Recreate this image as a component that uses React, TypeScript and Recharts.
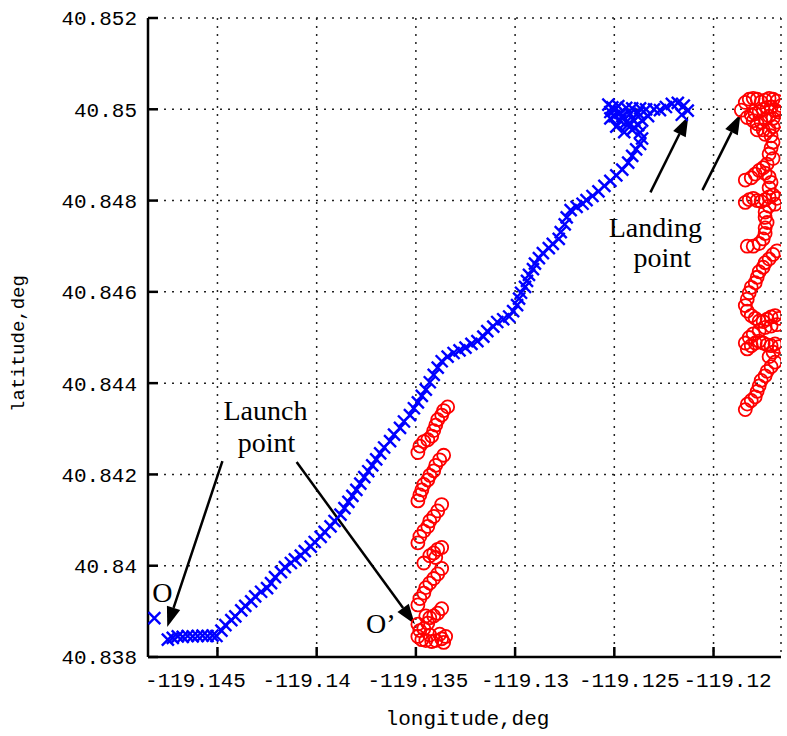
import React from 'react';
import { CartesianGrid, ReferenceDot, ReferenceLine, Scatter, ScatterChart, XAxis, YAxis } from 'recharts';

// longitude / latitude of the two tracks
const blueTrack: [number, number][] = [
  [-119.14818, 40.83885],
  [-119.1475, 40.83838], [-119.14725, 40.83842], [-119.147, 40.83845], [-119.14675, 40.83844],
  [-119.1465, 40.83846], [-119.14625, 40.83845], [-119.146, 40.83846], [-119.14575, 40.83847],
  [-119.1455, 40.83846], [-119.14525, 40.83847], [-119.14505, 40.83846],
  [-119.1448, 40.83858], [-119.1446, 40.8387], [-119.1443, 40.83881], [-119.1441, 40.83889],
  [-119.1438, 40.83902], [-119.1436, 40.83912], [-119.1433, 40.83922], [-119.1431, 40.83933],
  [-119.1428, 40.83943], [-119.1425, 40.83951], [-119.1423, 40.83962], [-119.1421, 40.83975],
  [-119.1418, 40.83986], [-119.1416, 40.83997], [-119.1413, 40.84006], [-119.1411, 40.84014],
  [-119.1408, 40.84022], [-119.1406, 40.84032], [-119.1403, 40.84042], [-119.1401, 40.84052],
  [-119.1398, 40.84063], [-119.1396, 40.84074], [-119.1393, 40.84086], [-119.1391, 40.84098],
  [-119.1388, 40.84112], [-119.1386, 40.84126], [-119.1384, 40.8414], [-119.1382, 40.84153],
  [-119.138, 40.84166], [-119.1378, 40.8418], [-119.1376, 40.84194], [-119.1374, 40.84207],
  [-119.1372, 40.8422], [-119.137, 40.84233], [-119.1368, 40.84246], [-119.1366, 40.84259],
  [-119.1363, 40.84273], [-119.1361, 40.84287], [-119.1358, 40.84302], [-119.1356, 40.84316],
  [-119.1353, 40.8433], [-119.1351, 40.84345], [-119.1349, 40.84358], [-119.1347, 40.84372],
  [-119.1345, 40.84386], [-119.1343, 40.84402], [-119.1341, 40.84418], [-119.1339, 40.84434],
  [-119.1337, 40.84448], [-119.1334, 40.84458], [-119.1331, 40.84466], [-119.1328, 40.84472],
  [-119.1325, 40.84478], [-119.1322, 40.84486], [-119.1319, 40.84492], [-119.1316, 40.84502],
  [-119.1314, 40.84514], [-119.1311, 40.84524], [-119.1309, 40.84534], [-119.1306, 40.8454],
  [-119.1303, 40.84546], [-119.1301, 40.84558], [-119.1299, 40.84571], [-119.1298, 40.84585],
  [-119.1297, 40.84598], [-119.1295, 40.84611], [-119.1294, 40.84624], [-119.1293, 40.84637],
  [-119.1291, 40.8465], [-119.129, 40.84662], [-119.1288, 40.84674], [-119.1286, 40.84685],
  [-119.1283, 40.84696], [-119.1281, 40.84705], [-119.1278, 40.84716], [-119.1277, 40.84731],
  [-119.1275, 40.84748], [-119.1274, 40.84763], [-119.1272, 40.84779], [-119.1269, 40.84786],
  [-119.1266, 40.84793], [-119.1264, 40.84801], [-119.1261, 40.8481], [-119.1258, 40.8482],
  [-119.1255, 40.84832], [-119.1252, 40.84843], [-119.1249, 40.84855], [-119.1246, 40.84868],
  [-119.1243, 40.84883], [-119.1241, 40.84898], [-119.1239, 40.84912], [-119.1237, 40.84924],
  [-119.1236, 40.84936], [-119.1237, 40.84949], [-119.124, 40.8496], [-119.1243, 40.84967],
  [-119.1247, 40.84975], [-119.125, 40.84985], [-119.1252, 40.84994], [-119.1251, 40.85004],
  [-119.1248, 40.85007], [-119.1244, 40.85003], [-119.1241, 40.85002], [-119.1237, 40.85002],
  [-119.1234, 40.85], [-119.123, 40.85], [-119.1227, 40.84998], [-119.1224, 40.85005],
  [-119.1221, 40.85012], [-119.1218, 40.85014], [-119.1215, 40.85008], [-119.1213, 40.84997],
  [-119.1216, 40.84988],
  [-119.1249, 40.84962], [-119.1245, 40.8495], [-119.124, 40.84975], [-119.1233, 40.84985],
  [-119.1247, 40.84992], [-119.1253, 40.8501], [-119.125, 40.84998], [-119.1246, 40.84985],
  [-119.1242, 40.8499], [-119.1238, 40.84992], [-119.1244, 40.84972], [-119.1236, 40.84975],
  [-119.1252, 40.8498], [-119.1241, 40.84955], [-119.1238, 40.84965],
];

const redTrack: [number, number][] = [
  // column near -119.134
  [-119.1349, 40.84248], [-119.1348, 40.84262], [-119.1346, 40.84272], [-119.1344, 40.84276],
  [-119.1342, 40.84284], [-119.1341, 40.84296], [-119.134, 40.84308], [-119.1339, 40.8432],
  [-119.1337, 40.8433], [-119.1336, 40.8434], [-119.1334, 40.84348],
  [-119.1349, 40.84142], [-119.1348, 40.84155], [-119.1347, 40.84166], [-119.1346, 40.84178],
  [-119.1344, 40.84188], [-119.1343, 40.84198], [-119.1341, 40.84208], [-119.134, 40.8422],
  [-119.1338, 40.84232], [-119.1336, 40.84242],
  [-119.1349, 40.8405], [-119.1348, 40.84064], [-119.1346, 40.84076], [-119.1344, 40.84086],
  [-119.1343, 40.84098], [-119.1341, 40.84108], [-119.1339, 40.8412], [-119.1337, 40.84134],
  [-119.1346, 40.84006], [-119.1343, 40.84022], [-119.1341, 40.84028], [-119.1339, 40.84036],
  [-119.1337, 40.8404], [-119.134, 40.84018],
  [-119.1349, 40.83914], [-119.1348, 40.83928], [-119.1346, 40.8394], [-119.1345, 40.83952],
  [-119.1343, 40.83962], [-119.1341, 40.83972], [-119.1339, 40.83982], [-119.1337, 40.83994],
  [-119.1349, 40.83872], [-119.1348, 40.83858], [-119.1346, 40.83862], [-119.1344, 40.83874],
  [-119.1343, 40.83886], [-119.1341, 40.8389], [-119.1339, 40.83896], [-119.1337, 40.83906],
  [-119.1345, 40.8389], [-119.1349, 40.83845], [-119.1347, 40.83838], [-119.1345, 40.83836],
  [-119.1342, 40.83834], [-119.134, 40.83836], [-119.1337, 40.8384], [-119.1335, 40.83845],
  [-119.1336, 40.83832], [-119.1343, 40.83848], [-119.1338, 40.8385],
  // column near -119.1175
  [-119.1186, 40.84998], [-119.1184, 40.85015], [-119.1182, 40.85022], [-119.118, 40.85024],
  [-119.1178, 40.85022], [-119.1176, 40.85016], [-119.1174, 40.8502], [-119.1172, 40.85024],
  [-119.117, 40.85022], [-119.1168, 40.85018], [-119.1166, 40.85008], [-119.1167, 40.84994],
  [-119.1169, 40.84998], [-119.1171, 40.85005], [-119.1173, 40.85004], [-119.1175, 40.85],
  [-119.1177, 40.84995], [-119.1179, 40.8499], [-119.1181, 40.84988], [-119.1183, 40.84982],
  [-119.118, 40.84975], [-119.1178, 40.84968], [-119.1176, 40.84972], [-119.1174, 40.84978],
  [-119.1172, 40.84985], [-119.117, 40.8498], [-119.1168, 40.84972], [-119.117, 40.84962],
  [-119.1172, 40.84955], [-119.1175, 40.84955], [-119.1178, 40.84955], [-119.1174, 40.84945],
  [-119.1171, 40.84942],
  [-119.117, 40.84928], [-119.1171, 40.84915], [-119.1172, 40.84902], [-119.117, 40.84892],
  [-119.1173, 40.8488], [-119.1175, 40.84872], [-119.1177, 40.84866], [-119.1179, 40.84858],
  [-119.1181, 40.8485], [-119.1184, 40.84845], [-119.1174, 40.8486], [-119.1172, 40.84852],
  [-119.1171, 40.8484], [-119.1172, 40.84828],
  [-119.1184, 40.84796], [-119.1182, 40.84802], [-119.118, 40.84805], [-119.1178, 40.848],
  [-119.1176, 40.84798], [-119.1174, 40.84802], [-119.1172, 40.84808], [-119.117, 40.84812],
  [-119.1168, 40.84805], [-119.1169, 40.84792], [-119.1172, 40.84788],
  [-119.1174, 40.84775], [-119.1174, 40.84763], [-119.1173, 40.84752], [-119.1174, 40.8474],
  [-119.1174, 40.84728], [-119.1175, 40.84716], [-119.1177, 40.84706], [-119.118, 40.847],
  [-119.1183, 40.847],
  [-119.1184, 40.8457], [-119.1183, 40.84584], [-119.1182, 40.84598], [-119.1181, 40.8461],
  [-119.1179, 40.8462], [-119.1178, 40.84632], [-119.1177, 40.84644], [-119.1175, 40.84654],
  [-119.1174, 40.84664], [-119.1172, 40.84672], [-119.117, 40.84682], [-119.1168, 40.8469],
  [-119.1183, 40.84558], [-119.1181, 40.84548], [-119.1179, 40.84542], [-119.1177, 40.84536],
  [-119.1175, 40.84535], [-119.1173, 40.8454], [-119.1171, 40.84545], [-119.1169, 40.84548],
  [-119.1167, 40.84542], [-119.1168, 40.84528], [-119.1171, 40.84525], [-119.1174, 40.84522],
  [-119.1177, 40.84515], [-119.118, 40.84508], [-119.1182, 40.845],
  [-119.1184, 40.84488], [-119.1183, 40.84475], [-119.1181, 40.84482], [-119.1179, 40.84488],
  [-119.1177, 40.84492], [-119.1175, 40.84488], [-119.1173, 40.84484], [-119.1171, 40.84482],
  [-119.1169, 40.84486], [-119.1167, 40.8448], [-119.117, 40.84468], [-119.1172, 40.84458],
  [-119.1184, 40.84342], [-119.1183, 40.84354], [-119.1181, 40.84362], [-119.1179, 40.8437],
  [-119.1178, 40.84382], [-119.1177, 40.84394], [-119.1176, 40.84406], [-119.1174, 40.84416],
  [-119.1173, 40.84426], [-119.1171, 40.84436], [-119.1169, 40.84446],
];

const xTicks = [-119.145, -119.14, -119.135, -119.13, -119.125, -119.12];
const yTicks = [40.838, 40.84, 40.842, 40.844, 40.846, 40.848, 40.85, 40.852];
// the source figure's x labels sit a little off their ticks
const xLabelShift = [-22, -10, 2, 10, 15, 14];

// arrows: [fromLon, fromLat, toLon, toLat]
const arrows: [number, number, number, number][] = [
  [-119.14475, 40.84229, -119.14753, 40.83866],
  [-119.14101, 40.84227, -119.13505, 40.83872],
  [-119.12318, 40.84818, -119.12127, 40.84985],
  [-119.12056, 40.84823, -119.11864, 40.84989],
];

const notes: { lon: number; lat: number; text: string }[] = [
  { lon: -119.14258, lat: 40.84319, text: 'Launch' },
  { lon: -119.14253, lat: 40.84249, text: 'point' },
  { lon: -119.12293, lat: 40.8472, text: 'Landing' },
  { lon: -119.12258, lat: 40.84654, text: 'point' },
  { lon: -119.14777, lat: 40.8392, text: 'O' },
  { lon: -119.13677, lat: 40.83853, text: 'O\u2019' },
];

const blueData = blueTrack.map(([lon, lat]) => ({ lon, lat }));
const redData = redTrack.map(([lon, lat]) => ({ lon, lat }));

const fmt = (v: number) => String(Number(v.toFixed(3)));
const tickFont = { fill: '#000', fontSize: 21, fontFamily: 'Liberation Mono' };
const axisStroke = { stroke: '#000', strokeWidth: 2.5 };
const noTick = () => <g />;

const XTick = (p: any) => (
  <text
    x={p.x + (xLabelShift[p.index] ?? 0)}
    y={p.y + 18}
    textAnchor="middle"
    fontSize={21}
    fontFamily="Liberation Mono"
    fill="#000"
  >
    {fmt(p.payload.value)}
  </text>
);

const Cross = (p: any) => (
  <path
    d={`M${p.cx - 6},${p.cy - 6}L${p.cx + 6},${p.cy + 6}M${p.cx - 6},${p.cy + 6}L${p.cx + 6},${p.cy - 6}`}
    stroke="#0000ff"
    strokeWidth={2.4}
    fill="none"
  />
);

const Ring = (p: any) => <circle cx={p.cx} cy={p.cy} r={6.5} stroke="#ff0000" strokeWidth={1.8} fill="none" />;

const Arrow = (p: any) => {
  const { x1, y1, x2, y2 } = p;
  const a = Math.atan2(y2 - y1, x2 - x1);
  const len = 20;
  const half = 7;
  const bx = x2 - len * Math.cos(a);
  const by = y2 - len * Math.sin(a);
  const nx = -Math.sin(a) * half;
  const ny = Math.cos(a) * half;
  return (
    <g>
      <line x1={x1} y1={y1} x2={bx} y2={by} stroke="#000" strokeWidth={2.5} />
      <polygon points={`${x2},${y2} ${bx + nx},${by + ny} ${bx - nx},${by - ny}`} fill="#000" />
    </g>
  );
};

export default function App() {
  return (
    <div style={{ position: 'absolute', left: 0, top: 0, width: 787, height: 736, background: '#fff' }}>
      <ScatterChart width={787} height={736} margin={{ top: 18, right: 6, left: 0, bottom: 0 }}>
        <CartesianGrid stroke="#222" strokeWidth={1.5} strokeDasharray="2 6" />
        <XAxis
          type="number"
          dataKey="lon"
          domain={[-119.1485, -119.1166]}
          ticks={xTicks}
          allowDataOverflow
          height={79}
          tick={XTick}
          tickSize={-10}
          tickMargin={22}
          axisLine={axisStroke}
          tickLine={axisStroke}
          label={{
            content: ({ viewBox }: any) => (
              <text x={viewBox.x + viewBox.width / 2 + 3} y={viewBox.y + 68} textAnchor="middle" fontSize={21} fontFamily="Liberation Mono" fill="#000">
                longitude,deg
              </text>
            ),
          }}
        />
        <XAxis
          xAxisId="t"
          orientation="top"
          type="number"
          dataKey="lon"
          domain={[-119.1485, -119.1166]}
          ticks={xTicks}
          allowDataOverflow
          height={0}
          tick={noTick}
          tickSize={-10}
          axisLine={axisStroke}
          tickLine={axisStroke}
        />
        <YAxis
          type="number"
          dataKey="lat"
          domain={[40.838, 40.852]}
          ticks={yTicks}
          allowDataOverflow
          width={148}
          tickFormatter={fmt}
          tick={tickFont}
          tickSize={-10}
          tickMargin={21}
          axisLine={axisStroke}
          tickLine={axisStroke}
          label={{
            content: ({ viewBox }: any) => {
              const x = 24;
              const y = viewBox.y + viewBox.height / 2 + 6;
              return (
                <text x={x} y={y} transform={`rotate(-90 ${x} ${y})`} textAnchor="middle" fontSize={19} fontFamily="Liberation Mono" fill="#000">
                  latitude,deg
                </text>
              );
            },
          }}
        />
        <YAxis
          yAxisId="r"
          orientation="right"
          type="number"
          dataKey="lat"
          domain={[40.838, 40.852]}
          ticks={yTicks}
          allowDataOverflow
          width={0}
          tick={noTick}
          tickSize={-10}
          axisLine={axisStroke}
          tickLine={axisStroke}
        />
        <Scatter data={blueData} shape={Cross} isAnimationActive={false} />
        <Scatter data={redData} shape={Ring} isAnimationActive={false} />
        {arrows.map(([ax, ay, bx, by], i) => (
          <ReferenceLine key={i} segment={[{ x: ax, y: ay }, { x: bx, y: by }]} shape={Arrow} />
        ))}
        {notes.map((n, i) => (
          <ReferenceDot
            key={i}
            x={n.lon}
            y={n.lat}
            r={0}
            shape={(p: any) => (
              <text x={p.cx} y={p.cy} textAnchor="middle" fontSize={28} fontFamily="Liberation Serif" fill="#000">
                {n.text}
              </text>
            )}
          />
        ))}
      </ScatterChart>
    </div>
  );
}
